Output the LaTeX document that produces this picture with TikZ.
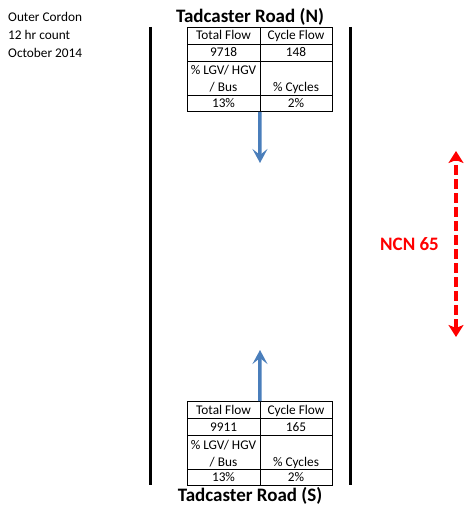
\documentclass[tikz,border=0pt]{standalone}
\usepackage{fontspec}
\setmainfont{Carlito}
\usetikzlibrary{arrows.meta}
\definecolor{flowblue}{RGB}{74,126,187}
\tikzset{
  road/.style={line width=3pt},
  grid/.style={line width=0.8pt},
  cell/.style={anchor=base, inner sep=0pt, font=\fontsize{13.3}{16}\selectfont},
  heading/.style={anchor=base, inner sep=0pt, font=\fontsize{19}{22}\selectfont\bfseries},
  flow/.style={flowblue, line width=3.5pt, -{Stealth[length=14pt,width=15pt,inset=6pt]}},
  route/.style={red, line width=4pt, dash pattern=on 10pt off 4pt,
    {Stealth[length=12pt,width=15pt,inset=3pt]}-{Stealth[length=12pt,width=15pt,inset=3pt]}},
}
\begin{document}
\begin{tikzpicture}[x=1pt,y=-1pt]
\useasboundingbox (0,0) rectangle (471,508);
% count info
\foreach \t [count=\i] in {Outer Cordon,12 hr count,October 2014}
  \node[cell, anchor=base west] (info\i) at (8,{4+18*\i}) {\t};
\node[heading] (roadN) at (250,22.7) {Tadcaster Road (N)};
\node[heading] (roadS) at (250,501) {Tadcaster Road (S)};
% road edges
\draw[road] (150,27) -- (150,485);
\draw[road] (350,27) -- (350,485);
% flow tables
\foreach \n/\y/\tot/\cyc in {N/27/9718/148,S/401/9911/165}
{
  \node[draw, grid, minimum width=145pt, minimum height=84pt, inner sep=0pt, anchor=north west] (tab\n) at (187,\y) {};
  \draw[grid] (260,\y) -- (260,{\y+84});
  \foreach \d in {17,34,68}
    \draw[grid] (187,{\y+\d}) -- (332,{\y+\d});
  \node[cell] (tot\n) at (223.5,{\y+13}) {Total Flow};
  \node[cell] (cyc\n) at (296,{\y+13}) {Cycle Flow};
  \node[cell] (totv\n) at (223.5,{\y+30}) {\tot};
  \node[cell] (cycv\n) at (296,{\y+30}) {\cyc};
  \node[cell] (hgv\n) at (223.5,{\y+48}) {\% LGV/ HGV};
  \node[cell] (bus\n) at (223.5,{\y+65}) {/ Bus};
  \node[cell] (pcyc\n) at (296,{\y+65}) {\% Cycles};
  \node[cell] (hgvv\n) at (223.5,{\y+80}) {13\%};
  \node[cell] (pcycv\n) at (296,{\y+80}) {2\%};
}
% flow arrows
\coordinate (headN) at (260,163);
\coordinate (headS) at (260,350);
\draw[flow] (tabN.south) -- (headN);
\draw[flow] (tabS.north) -- (headS);
% cycle route
\coordinate (ncnTop) at (456,151);
\coordinate (ncnBot) at (456,337);
\draw[route] (ncnBot) -- (ncnTop);
\node[heading, red] (ncn) at (409.5,250) {NCN 65};
\end{tikzpicture}
\end{document}
